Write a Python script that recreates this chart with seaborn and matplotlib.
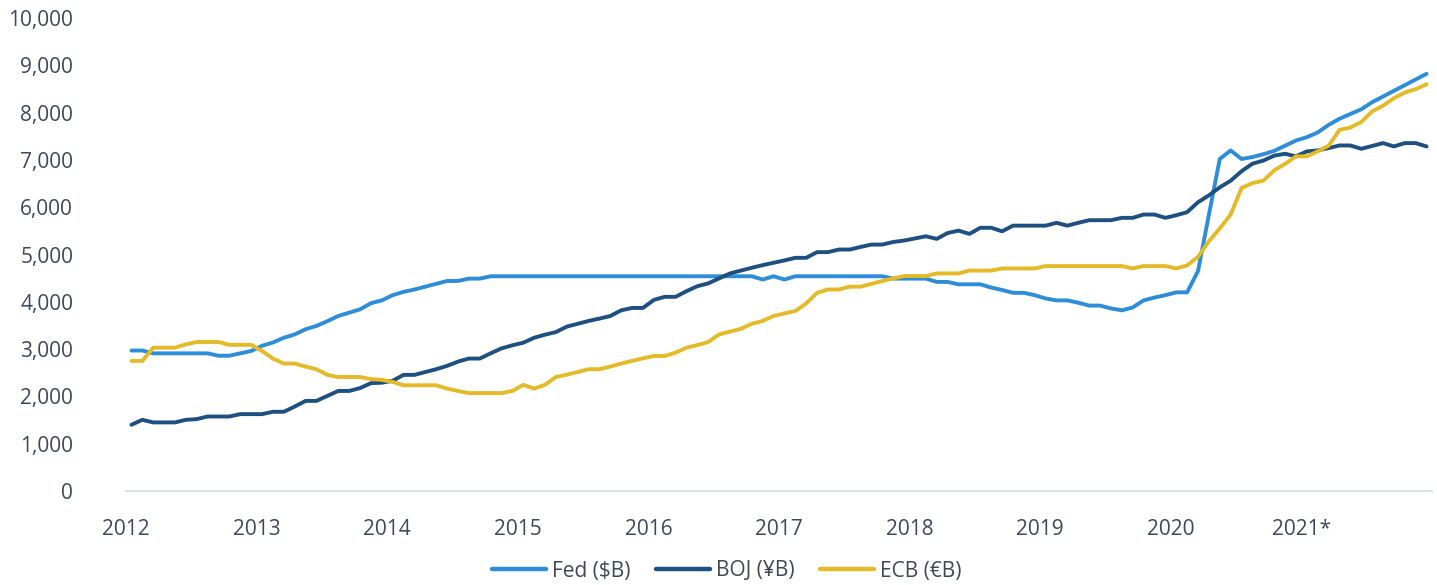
import numpy as np
import pandas as pd
import matplotlib
matplotlib.use("Agg")
import matplotlib.pyplot as plt
import seaborn as sns

# Monthly values, Jan 2012 .. Dec 2021
fed = [
    2970, 2970, 2910, 2910, 2910, 2910, 2910, 2910, 2860, 2860, 2910, 2960,
    3070, 3140, 3240, 3310, 3420, 3490, 3590, 3700, 3770, 3840, 3970, 4030,
    4140, 4210, 4260, 4320, 4380, 4440, 4440, 4490, 4490, 4540, 4540, 4540,
    4540, 4540, 4540, 4540, 4540, 4540, 4540, 4540, 4540, 4540, 4540, 4540,
    4540, 4540, 4540, 4540, 4540, 4540, 4540, 4540, 4540, 4540, 4470, 4540,
    4470, 4540, 4540, 4540, 4540, 4540, 4540, 4540, 4540, 4540, 4490, 4490,
    4490, 4490, 4420, 4420, 4370, 4370, 4370, 4300, 4250, 4190, 4190, 4140,
    4070, 4030, 4030, 3980, 3920, 3920, 3860, 3820, 3880, 4030, 4090, 4140,
    4200, 4200, 4650, 5840, 7020, 7200, 7020, 7060, 7120, 7190, 7300, 7410,
    7480, 7580, 7740, 7870, 7970, 8070, 8220, 8340, 8460, 8580, 8700, 8820,
]
boj = [
    1400, 1505, 1450, 1450, 1450, 1505, 1520, 1575, 1575, 1575, 1625, 1625,
    1625, 1675, 1675, 1785, 1905, 1905, 2010, 2115, 2115, 2175, 2280, 2290,
    2330, 2455, 2455, 2515, 2575, 2645, 2735, 2800, 2800, 2910, 3015, 3080,
    3135, 3240, 3305, 3360, 3475, 3535, 3595, 3645, 3700, 3820, 3870, 3870,
    4040, 4105, 4105, 4225, 4330, 4390, 4495, 4600, 4660, 4720, 4775, 4825,
    4875, 4930, 4930, 5050, 5050, 5105, 5105, 5160, 5210, 5210, 5265, 5295,
    5340, 5385, 5330, 5455, 5505, 5435, 5565, 5565, 5490, 5610, 5610, 5610,
    5610, 5670, 5610, 5670, 5725, 5725, 5725, 5775, 5775, 5845, 5845, 5775,
    5830, 5895, 6105, 6250, 6420, 6560, 6760, 6920, 6985, 7090, 7130, 7075,
    7180, 7200, 7250, 7305, 7305, 7235, 7295, 7355, 7285, 7355, 7355, 7285,
]
ecb = [
    2750, 2750, 3030, 3030, 3030, 3100, 3150, 3150, 3150, 3090, 3090, 3090,
    2960, 2800, 2695, 2695, 2630, 2575, 2455, 2410, 2410, 2410, 2365, 2350,
    2305, 2235, 2235, 2235, 2235, 2165, 2115, 2070, 2070, 2070, 2070, 2115,
    2245, 2165, 2245, 2410, 2460, 2515, 2575, 2575, 2630, 2695, 2750, 2805,
    2855, 2855, 2925, 3030, 3085, 3150, 3310, 3370, 3430, 3535, 3595, 3700,
    3755, 3805, 3965, 4190, 4260, 4260, 4320, 4320, 4380, 4440, 4495, 4545,
    4545, 4545, 4600, 4600, 4600, 4660, 4660, 4660, 4705, 4705, 4705, 4705,
    4755, 4755, 4755, 4755, 4755, 4755, 4755, 4755, 4705, 4755, 4755, 4755,
    4705, 4770, 4950, 5280, 5550, 5845, 6405, 6510, 6560, 6780, 6915, 7075,
    7075, 7180, 7300, 7635, 7685, 7800, 8025, 8145, 8305, 8425, 8495, 8600,
]
series_names = ["Fed ($B)", "BOJ (¥B)", "ECB (€B)"]
year_labels = ["2012", "2013", "2014", "2015", "2016", "2017", "2018", "2019", "2020", "2021*"]
y_ticks = [0, 1000, 2000, 3000, 4000, 5000, 6000, 7000, 8000, 9000, 10000]

colors = {"Fed ($B)": "#2E8DD8", "BOJ (¥B)": "#1D4F80", "ECB (€B)": "#E4BA29"}
text_color = "#3E4858"

month = np.arange(len(fed))
df = pd.concat([
    pd.DataFrame({"month": month, "value": fed, "series": series_names[0]}),
    pd.DataFrame({"month": month, "value": boj, "series": series_names[1]}),
    pd.DataFrame({"month": month, "value": ecb, "series": series_names[2]}),
], ignore_index=True)

sns.set_theme(style="white")
plt.rcParams["font.family"] = ["Open Sans", "DejaVu Sans"]

fig = plt.figure(figsize=(14.37, 5.85), dpi=100)
ax = fig.add_axes([126 / 1437, 1 - 491 / 585, (1432 - 126) / 1437, (491 - 18) / 585])

sns.lineplot(data=df, x="month", y="value", hue="series", palette=colors,
             hue_order=series_names, linewidth=2.8, ax=ax, legend=False)

ax.set_xlim(-0.5, len(fed) - 0.5)
ax.set_ylim(0, 10000)
ax.set_xticks([12 * k - 0.5 for k in range(len(year_labels))])
ax.set_xticklabels(year_labels)
ax.set_yticks(y_ticks)
ax.set_yticklabels([f"{v:,}" for v in y_ticks])
ax.set_xlabel("")
ax.set_ylabel("")
ax.tick_params(axis="x", length=0, pad=20, labelsize=15, labelcolor=text_color)
ax.tick_params(axis="y", length=0, pad=38, labelsize=15, labelcolor=text_color)
for s in ["top", "right", "left"]:
    ax.spines[s].set_visible(False)
ax.spines["bottom"].set_color("#D5DCE4")
ax.spines["bottom"].set_linewidth(1.2)
ax.grid(False)

from matplotlib.lines import Line2D
handles = [Line2D([0], [0], color=colors[n], lw=3.2, solid_capstyle="round") for n in series_names]
leg = fig.legend(handles, series_names, loc="center", bbox_to_anchor=(727 / 1437, 1 - 571 / 585),
                 ncol=3, frameon=False, fontsize=15, handlelength=2.6, handletextpad=0.3,
                 columnspacing=1.2)
for t in leg.get_texts():
    t.set_color(text_color)

fig.savefig("out.png", dpi=100)
